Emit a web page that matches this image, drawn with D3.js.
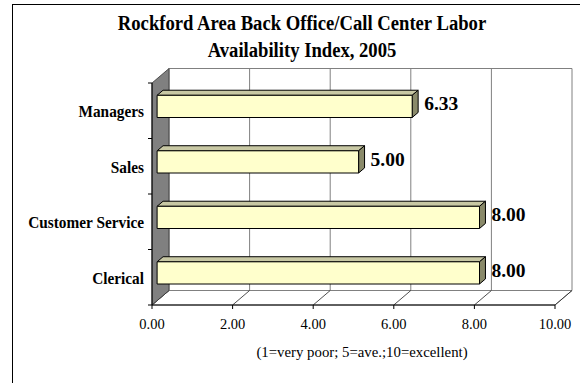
<!DOCTYPE html>
<html><head><meta charset="utf-8">
<script src="https://cdn.jsdelivr.net/npm/d3@7"></script>
<style>body{margin:0;background:#fff}svg{display:block}text{font-family:"Liberation Serif","Times New Roman",serif}</style>
</head><body>
<svg id="chart" width="580" height="383"></svg>
<script>
const titleLines = ["Rockford Area Back Office/Call Center Labor", "Availability Index, 2005"];
const categories = ["Managers", "Sales", "Customer Service", "Clerical"];
const values = [6.33, 5.00, 8.00, 8.00];
const xTicks = [0, 2, 4, 6, 8, 10];
const xTickLabels = ["0.00", "2.00", "4.00", "6.00", "8.00", "10.00"];
const xAxisTitle = "(1=very poor; 5=ave.;10=excellent)";

const svg = d3.select("#chart");
const DX = 17, DY = -14.5;           // depth offset of 3D box
const f1 = 0.3, f2 = 0.65;           // bar depth (front/back fraction)
const x = d3.scaleLinear().domain([0, 10]).range([152, 555]);
const y = d3.scaleBand().domain(categories).range([83, 305]).padding(0);
const step = y.step();
const barHalf = step * 0.2;
const P = (v, yy, d) => [x(v) + d * DX, yy + d * DY];
const poly = pts => "M" + pts.map(p => p.join(",")).join("L") + "Z";

// outer frame
svg.append("rect").attr("x", 12.5).attr("y", 4.5).attr("width", 590).attr("height", 400)
  .attr("fill", "#fff").attr("stroke", "#000").attr("stroke-width", 1);

// title
svg.append("g").selectAll("text").data(titleLines).join("text")
  .attr("transform", (d, i) => `translate(302,${30 + i * 27}) scale(0.91,1)`)
  .attr("text-anchor", "middle").attr("font-weight", "bold").attr("font-size", 20.5)
  .text(d => d);

const y0 = y.range()[0], y1 = y.range()[1];
// back wall
svg.append("path").attr("d", poly([P(0, y0, 1), P(10, y0, 1), P(10, y1, 1), P(0, y1, 1)]))
  .attr("fill", "#fff").attr("stroke", "#808080").attr("stroke-width", 1);
svg.append("g").selectAll("line").data(xTicks.slice(1, -1)).join("line")
  .attr("x1", d => P(d, y0, 1)[0]).attr("x2", d => P(d, y1, 1)[0])
  .attr("y1", P(0, y0, 1)[1]).attr("y2", P(0, y1, 1)[1])
  .attr("stroke", "#808080").attr("stroke-width", 1);
// floor
svg.append("path").attr("d", poly([P(0, y1, 0), P(0, y1, 1), P(10, y1, 1), P(10, y1, 0)]))
  .attr("fill", "#fff").attr("stroke", "#808080").attr("stroke-width", 1);
svg.append("g").selectAll("line").data(xTicks).join("line")
  .attr("x1", d => P(d, y1, 0)[0]).attr("y1", d => P(d, y1, 0)[1])
  .attr("x2", d => P(d, y1, 1)[0]).attr("y2", d => P(d, y1, 1)[1])
  .attr("stroke", "#222").attr("stroke-width", 0.8);
// side wall
svg.append("path").attr("d", poly([P(0, y0, 0), P(0, y0, 1), P(0, y1, 1), P(0, y1, 0)]))
  .attr("fill", "#808080").attr("stroke", "#333").attr("stroke-width", 0.8);

// axes lines
svg.append("line").attr("x1", x(0)).attr("x2", x(10)).attr("y1", y1).attr("y2", y1)
  .attr("stroke", "#000").attr("stroke-width", 1);
svg.append("line").attr("x1", x(0)).attr("x2", x(0)).attr("y1", y0).attr("y2", y1)
  .attr("stroke", "#000").attr("stroke-width", 1);
svg.append("g").selectAll("line").data(xTicks).join("line")
  .attr("x1", d => x(d)).attr("x2", d => x(d)).attr("y1", y1).attr("y2", y1 + 4)
  .attr("stroke", "#000");
const yTickPos = categories.map(c => y(c)).concat([y1]);
svg.append("g").selectAll("line").data(yTickPos).join("line")
  .attr("x1", x(0) - 4).attr("x2", x(0)).attr("y1", d => d).attr("y2", d => d)
  .attr("stroke", "#000");

// tick labels
svg.append("g").selectAll("text").data(xTicks).join("text")
  .attr("x", d => x(d)).attr("y", 329).attr("text-anchor", "middle")
  .attr("font-size", 14.5).text((d, i) => xTickLabels[i]);
svg.append("text").attr("x", 362).attr("y", 357).attr("text-anchor", "middle")
  .attr("font-size", 14.8).text(xAxisTitle);
// category labels
svg.append("g").selectAll("text").data(categories).join("text")
  .attr("transform", d => `translate(144,${y(d) + step / 2 + 6.5}) scale(0.875,1)`)
  .attr("text-anchor", "end")
  .attr("font-weight", "bold").attr("font-size", 17.5).text(d => d);

// bars
const bars = svg.append("g").selectAll("g").data(categories.map((c, i) => ({c, v: values[i]}))).join("g");
bars.each(function(d) {
  const g = d3.select(this);
  const cy = y(d.c) + step / 2;
  const t = cy - barHalf, b = cy + barHalf;
  g.append("path").attr("d", poly([P(0, t, f1), P(0, t, f2), P(d.v, t, f2), P(d.v, t, f1)]))
    .attr("fill", "#C8C8A4").attr("stroke", "#000").attr("stroke-width", 1).attr("stroke-linejoin", "round");
  g.append("path").attr("d", poly([P(d.v, t, f1), P(d.v, t, f2), P(d.v, b, f2), P(d.v, b, f1)]))
    .attr("fill", "#8A8A6A").attr("stroke", "#000").attr("stroke-width", 1).attr("stroke-linejoin", "round");
  g.append("path").attr("d", poly([P(0, t, f1), P(d.v, t, f1), P(d.v, b, f1), P(0, b, f1)]))
    .attr("fill", "#FFFFCC").attr("stroke", "#000").attr("stroke-width", 1).attr("stroke-linejoin", "round");
  const lp = P(d.v, cy, (f1 + f2) / 2);
  g.append("text").attr("x", P(d.v, cy, f2)[0] + 6).attr("y", lp[1] + 6.5)
    .attr("font-weight", "bold").attr("font-size", 19.5).text(d.v.toFixed(2));
});
</script>
</body></html>
